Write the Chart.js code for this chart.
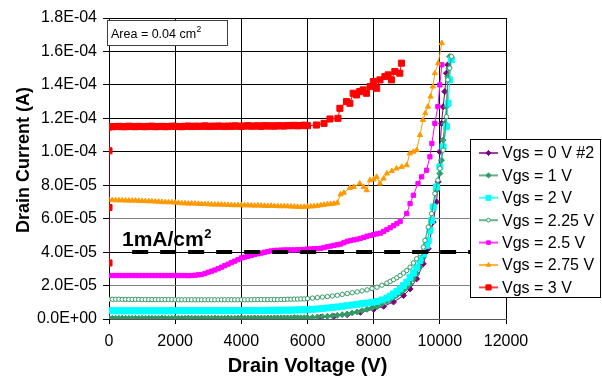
<!DOCTYPE html>
<html>
<head>
<meta charset="utf-8">
<script src="https://cdn.jsdelivr.net/npm/chart.js"></script>
<style>
  body { margin: 0; background: #fff; }
  #wrap { width: 602px; height: 381px; }
</style>
</head>
<body>
<div id="wrap"><canvas id="chart" width="602" height="381"></canvas></div>
<script>
// drain voltage (V) / drain current (uA)
// flat part of the sweep is sampled every 100 V
const vSweep = [0,100,200,300,400,500,600,700,800,900,1000,1100,1200,1300,1400,1500,1600,1700,1800,1900,2000,2100,2200,2300,2400,2500,2600,2700,2800,2900,3000,3100,3200,3300,3400,3500,3600,3700,3800,3900,4000,4100,4200,4300,4400,4500,4600,4700,4800,4900,5000,5100,5200,5300,5400,5500,5600,5700,5800,5900,6000];

// Vgs = 0 V #2
const v0 = [0,400,800,1200,1600,2000,2400,2800,3200,3600,4000,4400,4800,5200,5600,6000,6400,6800,7200,7600,8000,8300,8600,8900,9100,9300,9500,9650,9800,9900,9950,10000,10050,10100,10150,10200,10240];
const i0 = [0.3,0.3,0.3,0.3,0.3,0.3,0.4,0.4,0.4,0.4,0.5,0.5,0.5,0.6,0.7,0.8,1.1,1.6,2.6,4.0,5.8,7.6,10.2,14,18,24,33,42,58,70,82,100,117,127,136,147,152];

// Vgs = 1 V
const v1 = vSweep.concat([6150,6300,6450,6600,6750,6900,7050,7200,7350,7500,7650,7800,7950,8100,8250,8400,8500,8600,8700,8800,8900,9000,9100,9200,9300,9400,9500,9600,9700,9800,9900,10000,10050,10100,10150,10200,10240,10270,10300]);
const i1 = [0.4,0.4,0.4,0.4,0.4,0.4,0.4,0.4,0.4,0.4,
  0.4,0.4,0.4,0.4,0.4,0.4,0.4,0.4,0.4,0.4,
  0.5,0.5,0.5,0.5,0.5,0.5,0.5,0.5,0.5,0.5,
  0.5,0.5,0.5,0.5,0.5,0.5,0.5,0.5,0.5,0.6,
  0.6,0.6,0.6,0.6,0.6,0.6,0.6,0.6,0.6,0.6,
  0.7,0.7,0.7,0.7,0.7,0.7,0.8,0.8,0.8,0.8,
  0.9,
  1.0,1.2,1.4,1.6,1.9,2.2,2.6,3.0,3.6,4.2,5.0,5.8,6.6,7.4,8.9,10.5,
  11.7,13,14.2,15.5,17.2,19,
  21,24,27,31,37,45,55,67,77,
  87,95,107,117,127,145,150,157];

// Vgs = 2 V
const v2 = vSweep.concat([6150,6300,6450,6600,6750,6900,7050,7200,7350,7500,7650,7800,7950,8100,8250,8400,8500,8600,8700,8800,8900,9000,9100,9200,9300,9400,9500,9600,9650,9700,9750,9800,9900,10000,10100,10200,10250,10300,10350]);
const i2 = [5.0,5.0,4.9,4.9,4.9,4.9,4.9,4.9,4.9,4.9,
  4.9,4.9,4.9,4.9,4.9,4.9,4.9,4.9,4.9,4.9,
  5.0,5.0,5.0,5.0,5.0,5.0,5.0,5.0,5.0,5.0,
  5.0,5.0,5.0,5.0,5.0,5.0,5.0,5.0,5.1,5.1,
  5.1,5.1,5.1,5.1,5.1,5.1,5.1,5.1,5.2,5.2,
  5.2,5.2,5.3,5.3,5.3,5.3,5.4,5.4,5.5,5.5,
  5.6,
  5.8,6.0,6.3,6.6,6.9,7.2,7.6,8.0,8.4,8.8,9.2,9.6,10,10.5,11.4,12.5,
  13.7,15,16.4,18,20,22,
  25,27.5,31,35,39,44,47,53,59,67,79,
  91,103,115,129,143,155];

// Vgs = 2.25 V
const v3 = vSweep.concat([6150,6300,6450,6600,6750,6900,7050,7200,7350,7500,7650,7800,7950,8100,8250,8400,8500,8600,8700,8800,8900,9000,9100,9200,9300,9400,9500,9550,9650,9750,9850,9940,10000,10100,10200,10240,10300,10350]);
const i3 = [11.8,11.8,11.8,11.8,11.7,11.7,11.7,11.7,11.7,11.7,
  11.6,11.6,11.6,11.6,11.6,11.6,11.6,11.6,11.6,11.6,
  11.5,11.5,11.5,11.5,11.5,11.5,11.5,11.5,11.5,11.5,
  11.5,11.5,11.5,11.5,11.5,11.5,11.5,11.5,11.5,11.5,
  11.5,11.5,11.5,11.5,11.6,11.6,11.6,11.6,11.6,11.6,
  11.6,11.6,11.7,11.7,11.8,11.8,11.9,11.9,12.0,12.0,
  12.2,
  12.5,12.8,13.1,13.4,13.8,14.2,14.7,15.2,15.7,16.2,16.8,17.4,18.2,19,20.2,21.5,
  22.5,23.5,24.7,26,27.5,29,
  31,33.5,36,39,43,47,55,63,75,83,
  90,101,121,143,150,157];

// Vgs = 2.5 V
const v4 = vSweep.concat([6100,6200,6300,6400,6500,6600,6700,6800,6900,7000,7100,7200,7300,7400,7500,7600,7700,7800,7900,8000,8100,8200,8300,8400,8500,8600,8700,8800,9000,9100,9200,9340,9450,9600,9700,9760,9850,9940,10000,10060]);
const i4 = [26,26,26,26,26,26,26,26,26,26,
  26,26,26,26,26,26,26,26,26,26,
  26,26,26,26,25.9,26,26.2,26.4,26.6,27.2,
  28,28.6,29.3,30.1,31,31.9,32.8,33.7,34.6,35.5,
  36.5,37,37.5,38,38.5,39,39.4,39.9,40.3,40.7,
  41,41.1,41.2,41.3,41.3,41.3,41.3,41.4,41.5,41.6,
  41.8,41.9,42,42.1,42.3,42.7,43.2,43.6,44,44.4,
  44.8,45.6,46.5,46.9,47.3,47.7,48.2,48.8,49.5,50,
  50.5,50.9,51.3,52.4,53.5,54.6,55.8,57,58.3,
  63,69,74,81,85,89,97,105,117,127,140,152];

// Vgs = 2.75 V
const v5 = vSweep.concat([6100,6200,6300,6400,6500,6600,6700,6800,6900,7000,7100,7280,7400,7580,7700,7790,7890,8000,8090,8190,8300,8400,8550,8690,8850,9000,9090,9200,9300,9400,9490,9560,9640,9720,9790,9850,9950,10060]);
const i5 = [71.2,71.1,71,71,71,70.9,70.8,70.8,70.8,70.7,
  70.6,70.5,70.4,70.4,70.2,70.2,70,69.9,69.8,69.8,
  69.6,69.5,69.2,69.2,69,69.1,69,68.9,68.8,68.7,
  68.6,68.5,68.4,68.5,68.4,68.3,68.2,68.1,68,68.1,
  68,68,68,67.9,67.8,67.9,67.8,67.7,67.6,67.7,
  67.6,67.5,67.4,67.5,67.4,67.3,67.2,67.1,67,67.1,
  67.2,67.3,67.4,67.7,68,68.3,68.6,68.8,69,
  69.5,74.5,75.5,78.4,79,81,79,77,83,83.5,85,81,84,87,88.5,90,91,92,99,100,101,110,119,123,127,133,139,147,153,165];

// Vgs = 3 V (starts with a vertical run at 0 V)
const v6 = [0,0,0].concat(vSweep, [6270,6500,6680,6920,6980,7180,7280,7380,7480,7580,7680,7780,7890,7990,8090,8190,8340,8440,8540,8640,8790,8840]);
const i6 = [33.5,66.7,100.6,114.8,
  115,115.1,115.2,115,115,115.3,115.1,115,115.2,115.1,
  115,115.2,115.3,115,115.1,115.2,115,115.1,115.3,115.2,
  115.1,115,115.2,115.4,115.1,115.3,115.2,115.2,115.5,115.1,
  115.3,115.2,115.4,115.3,115.1,115.4,115.2,115.5,115.3,115.2,
  115.4,115.6,115.3,115.4,115.5,115.2,115.6,115.4,115.5,115.3,
  115.6,115.5,115.4,115.7,115.6,115.8,115.5,115.7,115.9,115.6,
  116,117,119.6,120,126,130,129,135,134,136,137,135,139,142,138,143,145,146,143,148,147,153];

// 1 mA/cm2 over 0.04 cm2 = 40 uA
const limitV = [700, 12000];
const limitI = [40, 40];

const seriesNames = ['Vgs = 0 V #2', 'Vgs = 1 V', 'Vgs = 2 V', 'Vgs = 2.25 V', 'Vgs = 2.5 V', 'Vgs = 2.75 V', 'Vgs = 3 V'];
const xTicks = [0, 2000, 4000, 6000, 8000, 10000, 12000];
const yTicks = [0, 2e-5, 4e-5, 6e-5, 8e-5, 1e-4, 1.2e-4, 1.4e-4, 1.6e-4, 1.8e-4];

const FONT = "'Liberation Sans', Arial, sans-serif";

const looks = [
  { color: '#800080', fill: '#800080', style: 'rectRot', r: 3 },
  { color: '#339966', fill: '#339966', style: 'rectRot', r: 3 },
  { color: '#00FFFF', fill: '#00FFFF', style: 'rect', r: 4.2 },
  { color: '#339966', fill: '#ffffff', style: 'circle', r: 2.2 },
  { color: '#FF00FF', fill: '#FF00FF', style: 'rect', r: 3 },
  { color: '#FF9900', fill: '#FF9900', style: 'triangle', r: 3 },
  { color: '#FF0000', fill: '#FF0000', style: 'rect', r: 4.3 }
];

function pts(v, i) {
  return v.map((x, k) => ({ x: x, y: i[k] * 1e-6 }));
}

const allV = [v0, v1, v2, v3, v4, v5, v6];
const allI = [i0, i1, i2, i3, i4, i5, i6];

const datasets = seriesNames.map((name, k) => ({
  label: name,
  data: pts(allV[k], allI[k]),
  borderColor: looks[k].color,
  backgroundColor: looks[k].fill,
  borderWidth: 1,
  pointStyle: looks[k].style,
  pointRadius: looks[k].r,
  pointBorderColor: looks[k].color,
  pointBackgroundColor: looks[k].fill,
  pointBorderWidth: 1,
  tension: 0,
  order: 10 - k
}));

datasets.push({
  label: '1mA/cm2',
  data: pts(limitV, limitI),
  borderColor: '#000',
  borderWidth: 4,
  borderDash: [16, 12],
  pointRadius: 0,
  order: -1
});

function sci(v) {
  if (Math.abs(v) < 1e-12) return '0.0E+00';
  const parts = v.toExponential(1).split('e');
  const n = parseInt(parts[1]);
  return parts[0] + 'E' + (n < 0 ? '-' : '+') + String(Math.abs(n)).padStart(2, '0');
}

function mark(ctx, style, x, y, r) {
  ctx.beginPath();
  if (style === 'rect') {
    const s = r * Math.SQRT1_2;
    ctx.rect(x - s, y - s, 2 * s, 2 * s);
  } else if (style === 'rectRot') {
    ctx.moveTo(x, y - r); ctx.lineTo(x + r, y); ctx.lineTo(x, y + r); ctx.lineTo(x - r, y); ctx.closePath();
  } else if (style === 'triangle') {
    ctx.moveTo(x, y - r); ctx.lineTo(x + r * 0.866, y + r * 0.5); ctx.lineTo(x - r * 0.866, y + r * 0.5); ctx.closePath();
  } else {
    ctx.arc(x, y, r, 0, Math.PI * 2);
  }
  ctx.fill();
  ctx.stroke();
}

const extras = {
  id: 'extras',
  afterDraw(chart) {
    const ctx = chart.ctx;
    ctx.save();

    // y title
    ctx.save();
    ctx.translate(24, 160);
    ctx.rotate(-Math.PI / 2);
    ctx.font = 'bold 18px ' + FONT;
    ctx.fillStyle = '#000';
    ctx.textAlign = 'center';
    ctx.textBaseline = 'middle';
    ctx.fillText('Drain Current (A)', 0, 0);
    ctx.restore();

    // area box
    ctx.fillStyle = '#fff';
    ctx.fillRect(107.5, 20.5, 120, 25);
    ctx.strokeStyle = '#404040';
    ctx.lineWidth = 1;
    ctx.strokeRect(107.5, 20.5, 120, 25);
    ctx.fillStyle = '#000';
    ctx.textAlign = 'left';
    ctx.textBaseline = 'alphabetic';
    ctx.font = '12.5px ' + FONT;
    ctx.fillText('Area = 0.04 cm', 111, 38);
    let w = ctx.measureText('Area = 0.04 cm').width;
    ctx.font = '8.5px ' + FONT;
    ctx.fillText('2', 111 + w + 0.5, 32);

    // 1mA/cm2 label
    ctx.font = 'bold 21px ' + FONT;
    ctx.fillText('1mA/cm', 122, 246);
    w = ctx.measureText('1mA/cm').width;
    ctx.font = 'bold 13px ' + FONT;
    ctx.fillText('2', 122 + w + 0.5, 238);

    // legend
    ctx.fillStyle = '#fff';
    ctx.fillRect(470.5, 139.5, 130, 158);
    ctx.strokeStyle = '#000';
    ctx.strokeRect(470.5, 139.5, 130, 158);
    ctx.font = '16px ' + FONT;
    ctx.textBaseline = 'middle';
    seriesNames.forEach((name, k) => {
      const y = 153 + k * 22.4;
      const lk = looks[k];
      ctx.strokeStyle = lk.color;
      ctx.globalAlpha = 0.75;
      ctx.lineWidth = 2;
      ctx.beginPath();
      ctx.moveTo(479, y);
      ctx.lineTo(498, y);
      ctx.stroke();
      ctx.globalAlpha = 1;
      ctx.lineWidth = 1;
      ctx.fillStyle = lk.fill;
      mark(ctx, lk.style, 488.5, y, lk.r * 0.85);
      ctx.fillStyle = '#000';
      ctx.fillText(name, 502, y + 1);
    });
    ctx.restore();
  }
};

function gridColor(c) {
  const n = Math.round((c.tick ? c.tick.value : 0) * 1e5);
  return (n === 0 || n === 2 || n === 6) ? '#808080' : '#000';
}

new Chart(document.getElementById('chart'), {
  type: 'line',
  data: { datasets: datasets },
  options: {
    responsive: false,
    animation: false,
    devicePixelRatio: 1,
    layout: { padding: { top: 18, right: 96, left: 0, bottom: 0 } },
    plugins: { legend: { display: false }, tooltip: { enabled: false } },
    scales: {
      x: {
        type: 'linear',
        min: 0,
        max: 12000,
        afterBuildTicks: s => { s.ticks = xTicks.map(v => ({ value: v })); },
        afterFit: s => { s.height = 62; },
        ticks: { color: '#000', font: { family: FONT, size: 16 }, padding: 8, maxRotation: 0, callback: v => String(v) },
        grid: { color: '#000', tickLength: 5, tickColor: '#000' },
        border: { color: '#555' },
        title: { display: true, text: 'Drain Voltage (V)', color: '#000', font: { family: FONT, size: 20, weight: 'bold' }, padding: { top: 0, bottom: 3 } }
      },
      y: {
        type: 'linear',
        min: 0,
        max: 1.8e-4,
        afterBuildTicks: s => { s.ticks = yTicks.map(v => ({ value: v })); },
        afterFit: s => { s.width = 109; },
        ticks: { color: '#000', font: { family: FONT, size: 16 }, padding: 6, callback: v => sci(v) },
        grid: { color: gridColor, tickLength: 6, tickColor: '#000' },
        border: { color: '#000' }
      }
    }
  },
  plugins: [extras]
});
</script>
</body>
</html>
